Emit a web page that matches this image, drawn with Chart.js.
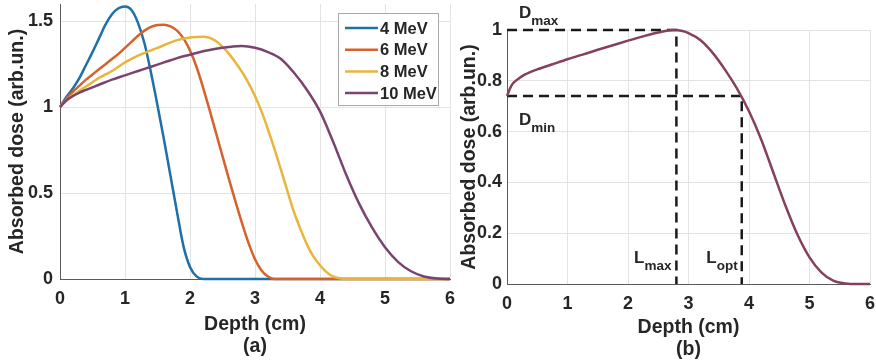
<!DOCTYPE html>
<html>
<head>
<meta charset="utf-8">
<script src="https://cdn.jsdelivr.net/npm/chart.js@4.4.1/dist/chart.umd.min.js"></script>
<style>
  body { margin: 0; background: #fff; }
  #wrap { position: relative; width: 876px; height: 364px; }
  canvas { position: absolute; top: 0; }
  #chartA { left: 0; }
  #chartB { left: 460px; }
</style>
</head>
<body>
<div id="wrap">
  <canvas id="chartA" width="460" height="364"></canvas>
  <canvas id="chartB" width="416" height="364"></canvas>
</div>
<script>
// Panel (a): depth-dose curves per beam energy
const depth4 = [0, 0.1, 0.2, 0.3, 0.4, 0.5, 0.6, 0.7, 0.8, 0.9, 1.0, 1.1, 1.2, 1.3, 1.4, 1.5, 1.6, 1.7, 1.8, 1.9, 2.0, 2.1, 2.2, 6];
const dose4  = [1.00, 1.06, 1.11, 1.17, 1.245, 1.32, 1.40, 1.48, 1.54, 1.575, 1.585, 1.565, 1.49, 1.37, 1.20, 1.01, 0.81, 0.60, 0.39, 0.19, 0.07, 0.015, 0, 0];

const depth6 = [0, 0.1, 0.2, 0.3, 0.4, 0.5, 0.6, 0.7, 0.8, 0.9, 1.0, 1.1, 1.2, 1.3, 1.4, 1.5, 1.6, 1.7, 1.8, 1.9, 2.0, 2.1, 2.2, 2.3, 2.4, 2.5, 2.6, 2.7, 2.8, 2.9, 3.0, 3.1, 3.2, 3.3, 6];
const dose6  = [1.00, 1.05, 1.09, 1.125, 1.16, 1.19, 1.22, 1.25, 1.28, 1.31, 1.345, 1.38, 1.415, 1.445, 1.467, 1.478, 1.48, 1.47, 1.445, 1.40, 1.33, 1.235, 1.115, 0.985, 0.85, 0.715, 0.58, 0.45, 0.325, 0.21, 0.115, 0.05, 0.015, 0, 0];

const depth8 = [0, 0.1, 0.2, 0.3, 0.4, 0.5, 0.6, 0.7, 0.8, 0.9, 1.0, 1.2, 1.4, 1.6, 1.8, 2.0, 2.2, 2.4, 2.5, 2.6, 2.7, 2.8, 2.9, 3.0, 3.1, 3.2, 3.3, 3.4, 3.5, 3.6, 3.7, 3.8, 3.9, 4.0, 4.1, 4.2, 4.3, 4.4, 6];
const dose8  = [1.00, 1.04, 1.07, 1.095, 1.12, 1.145, 1.17, 1.19, 1.21, 1.235, 1.26, 1.30, 1.33, 1.36, 1.39, 1.405, 1.41, 1.385, 1.35, 1.31, 1.26, 1.205, 1.14, 1.065, 0.975, 0.87, 0.755, 0.635, 0.51, 0.39, 0.29, 0.20, 0.13, 0.08, 0.04, 0.015, 0.004, 0, 0];

const depth10 = [0, 0.1, 0.2, 0.3, 0.4, 0.6, 0.8, 1.0, 1.2, 1.4, 1.6, 1.8, 2.0, 2.2, 2.4, 2.6, 2.8, 3.0, 3.2, 3.4, 3.6, 3.8, 4.0, 4.2, 4.4, 4.6, 4.8, 5.0, 5.2, 5.4, 5.6, 5.8, 6];
const dose10  = [1.00, 1.04, 1.065, 1.085, 1.10, 1.13, 1.16, 1.185, 1.21, 1.235, 1.26, 1.285, 1.305, 1.325, 1.34, 1.35, 1.355, 1.345, 1.32, 1.28, 1.20, 1.10, 0.975, 0.80, 0.61, 0.44, 0.30, 0.185, 0.10, 0.045, 0.015, 0.003, 0];

const energies = ["4 MeV", "6 MeV", "8 MeV", "10 MeV"];
const colors = ["#1f6fa8", "#d4622a", "#e9b53b", "#7a4470"];

// Panel (b): normalised 10 MeV curve
const depthB = [0, 0.05, 0.1, 0.2, 0.3, 0.5, 0.75, 1.0, 1.25, 1.5, 1.75, 2.0, 2.25, 2.5, 2.75, 2.9, 3.0, 3.2, 3.4, 3.6, 3.8, 4.0, 4.2, 4.4, 4.6, 4.8, 5.0, 5.2, 5.4, 5.6, 5.8, 6];
const doseB  = [0.74, 0.77, 0.79, 0.81, 0.825, 0.845, 0.865, 0.885, 0.903, 0.922, 0.94, 0.958, 0.975, 0.99, 1.0, 0.996, 0.988, 0.96, 0.91, 0.845, 0.77, 0.68, 0.57, 0.44, 0.31, 0.195, 0.105, 0.045, 0.012, 0.002, 0, 0];

const dMax = 1.0, dMin = 0.74, lMax = 2.8, lOpt = 3.88;

const xTicks  = [0, 1, 2, 3, 4, 5, 6];
const yTicksA = [0, 0.5, 1, 1.5];
const yTicksB = [0, 0.2, 0.4, 0.6, 0.8, 1];

const FONT = '"Liberation Sans", Arial, Helvetica, sans-serif';
const TEXT = "#262626";
Chart.defaults.font.family = FONT;
Chart.defaults.font.weight = "bold";
Chart.defaults.color = TEXT;

function toPoints(xs, ys) {
  return xs.map((x, i) => ({ x, y: ys[i] }));
}

function curve(label, xs, ys, color, order) {
  return {
    label,
    data: toPoints(xs, ys),
    borderColor: color,
    backgroundColor: color,
    borderWidth: 2.5,
    pointRadius: 0,
    cubicInterpolationMode: "monotone",
    fill: false,
    clip: 4,
    order
  };
}

function axes(opts) {
  return {
    x: {
      type: "linear",
      min: 0,
      max: 6,
      afterBuildTicks: (s) => { s.ticks = xTicks.map((v) => ({ value: v })); },
      afterFit: (s) => { s.height = opts.xHeight; s.paddingLeft = 0; s.paddingRight = 0; },
      grid: { color: "#e3e3e3", drawTicks: false },
      border: { color: "#5a5a5a", width: 1 },
      ticks: { padding: 9, font: { size: 18 }, color: TEXT, callback: (v) => String(v) },
      title: {
        display: true,
        text: ["Depth (cm)", opts.tag],
        font: { size: 19.5, lineHeight: 1.13 },
        padding: { top: 0, bottom: opts.titlePad },
        color: TEXT
      }
    },
    y: {
      min: 0,
      max: opts.yMax,
      afterBuildTicks: (s) => { s.ticks = opts.yTicks.map((v) => ({ value: v })); },
      afterFit: (s) => { s.width = opts.yWidth; s.paddingTop = 0; s.paddingBottom = 0; },
      grid: { color: "#e3e3e3", drawTicks: false },
      border: { color: "#5a5a5a", width: 1 },
      ticks: { padding: opts.yTickPad, font: { size: 18 }, color: TEXT, callback: (v) => String(v) },
      title: {
        display: true,
        text: "Absorbed dose (arb.un.)",
        font: { size: 19.5, lineHeight: 1 },
        padding: { top: opts.yTitlePad, bottom: 0 },
        color: TEXT
      }
    }
  };
}

// Boxed legend inside the plot, top right
const legendBox = {
  id: "legendBox",
  afterDraw(chart) {
    const { ctx, chartArea } = chart;
    const w = 100, h = 92;
    const x = chartArea.right - 12 - w, y = chartArea.top + 9;
    ctx.save();
    ctx.fillStyle = "#fff";
    ctx.fillRect(x, y, w, h);
    ctx.strokeStyle = "#a8a8a8";
    ctx.lineWidth = 1;
    ctx.strokeRect(x + 0.5, y + 0.5, w, h);
    ctx.font = "bold 16.5px " + FONT;
    ctx.textBaseline = "middle";
    ctx.fillStyle = TEXT;
    chart.data.datasets.forEach((ds, i) => {
      const cy = y + 15 + i * 21.7;
      ctx.strokeStyle = ds.borderColor;
      ctx.lineWidth = 2.5;
      ctx.beginPath();
      ctx.moveTo(x + 7, cy);
      ctx.lineTo(x + 40, cy);
      ctx.stroke();
      ctx.fillText(ds.label, x + 42, cy + 1);
    });
    ctx.restore();
  }
};

// D_max / D_min / L_max / L_opt labels with subscripts
const subLabels = {
  id: "subLabels",
  afterDraw(chart) {
    const { ctx, scales } = chart;
    const sx = scales.x, sy = scales.y;
    const put = (main, sub, x, base, alignRight) => {
      ctx.font = "bold 17px " + FONT;
      const wm = ctx.measureText(main).width;
      ctx.font = "bold 13.5px " + FONT;
      const ws = ctx.measureText(sub).width;
      const left = alignRight ? x - wm - ws : x;
      ctx.font = "bold 17px " + FONT;
      ctx.fillText(main, left, base);
      ctx.font = "bold 13.5px " + FONT;
      ctx.fillText(sub, left + wm, base + 7);
    };
    ctx.save();
    ctx.fillStyle = TEXT;
    ctx.textBaseline = "alphabetic";
    const x0 = sx.getPixelForValue(0);
    put("D", "max", x0 + 12, sy.getPixelForValue(dMax) - 12, false);
    put("D", "min", x0 + 12, sy.getPixelForValue(dMin) + 29, false);
    put("L", "max", sx.getPixelForValue(lMax) - 5, sy.getPixelForValue(0) - 21, true);
    put("L", "opt", sx.getPixelForValue(lOpt) - 4, sy.getPixelForValue(0) - 21, true);
    ctx.restore();
  }
};

new Chart(document.getElementById("chartA"), {
  type: "line",
  data: {
    datasets: [
      curve(energies[0], depth4, dose4, colors[0], 4),
      curve(energies[1], depth6, dose6, colors[1], 3),
      curve(energies[2], depth8, dose8, colors[2], 2),
      curve(energies[3], depth10, dose10, colors[3], 1)
    ]
  },
  options: {
    responsive: false,
    animation: false,
    layout: { padding: { top: 4, right: 10, left: 0, bottom: 0 } },
    plugins: { legend: { display: false }, tooltip: { enabled: false } },
    scales: axes({ xHeight: 85, tag: "(a)", titlePad: 6, yMax: 1.6, yTicks: yTicksA, yWidth: 60, yTickPad: 7, yTitlePad: 8 })
  },
  plugins: [legendBox]
});

const guide = (pts) => ({
  data: pts,
  borderColor: "#1a1a1a",
  borderWidth: 2.5,
  borderDash: [10, 6],
  pointRadius: 0,
  tension: 0,
  fill: false,
  clip: 4,
  order: 3
});

new Chart(document.getElementById("chartB"), {
  type: "line",
  data: {
    datasets: [
      guide([{ x: 0, y: dMax }, { x: lMax, y: dMax }, { x: lMax, y: 0 }]),
      guide([{ x: 0, y: dMin }, { x: lOpt, y: dMin }, { x: lOpt, y: 0 }]),
      curve("10 MeV", depthB, doseB, "#86405f", 1)
    ]
  },
  options: {
    responsive: false,
    animation: false,
    layout: { padding: { top: 30, right: 6, left: 0, bottom: 0 } },
    plugins: { legend: { display: false }, tooltip: { enabled: false } },
    scales: axes({ xHeight: 80, tag: "(b)", titlePad: 3, yMax: 1, yTicks: yTicksB, yWidth: 47, yTickPad: 5, yTitlePad: 0 })
  },
  plugins: [subLabels]
});
</script>
</body>
</html>
